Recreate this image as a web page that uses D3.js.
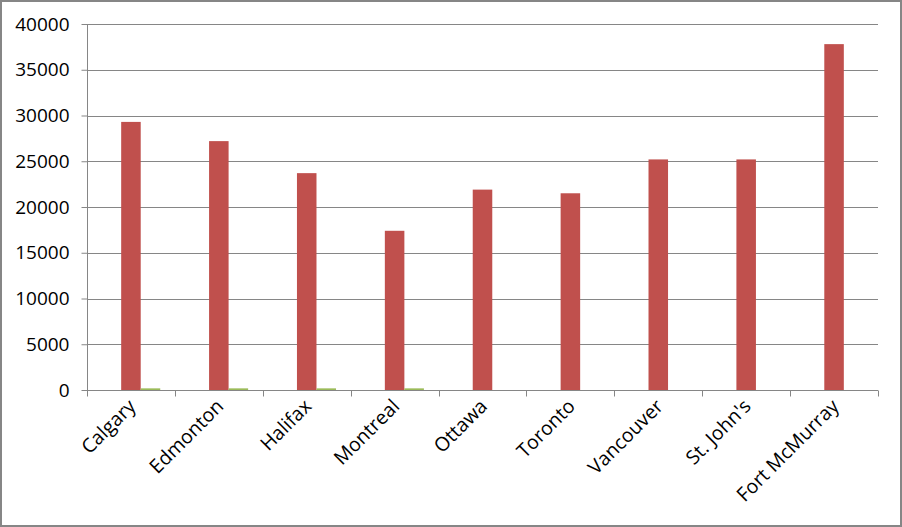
<!DOCTYPE html>
<html>
<head>
<meta charset="utf-8">
<script src="https://cdn.jsdelivr.net/npm/d3@7"></script>
<style>
  html, body { margin: 0; padding: 0; background: #fff; }
  svg { display: block; }
  text { font-family: "Open Sans", "Liberation Sans", sans-serif; fill: #000; }
</style>
</head>
<body>
<svg id="chart" width="902" height="527"></svg>
<script>
const categories = ["Calgary", "Edmonton", "Halifax", "Montreal", "Ottawa", "Toronto", "Vancouver", "St. John's", "Fort McMurray"];
const seriesNames = ["Series1", "Series2", "Series3"];
const series1 = [0, 0, 0, 0, 0, 0, 0, 0, 0];
const series2 = [29300, 27200, 23700, 17400, 21900, 21500, 25200, 25200, 37800];
const series3 = [180, 180, 180, 180, 0, 0, 0, 0, 0];
const yTicks = [0, 5000, 10000, 15000, 20000, 25000, 30000, 35000, 40000];
const colors = ["#4F81BD", "#C0504D", "#9BBB59"];

const svg = d3.select("#chart");
const W = 902, H = 527;
const m = { left: 87, right: 24, top: 24, bottom: 137 };
const x0 = d3.scaleBand().domain(categories).range([m.left, W - m.right]).paddingInner(0).paddingOuter(0);
const x1 = d3.scaleBand().domain(seriesNames).range([0, x0.bandwidth()]).paddingInner(0).paddingOuter(0.75);
const y = d3.scaleLinear().domain([0, 40000]).range([H - m.bottom, m.top]);

// border
svg.append("rect").attr("x", 1).attr("y", 1).attr("width", W - 2).attr("height", H - 2)
  .attr("fill", "#fff").attr("stroke", "#868686").attr("stroke-width", 2);

// gridlines
svg.append("g").selectAll("line").data(yTicks.filter(d => d > 0)).join("line")
  .attr("x1", m.left).attr("x2", W - m.right)
  .attr("y1", d => Math.round(y(d)) + 0.5).attr("y2", d => Math.round(y(d)) + 0.5)
  .attr("stroke", "#868686").attr("stroke-width", 1);

// bars
const data = categories.map((c, i) => ({ cat: c, vals: [series1[i], series2[i], series3[i]] }));
const g = svg.append("g");
data.forEach(d => {
  d.vals.forEach((v, j) => {
    if (v <= 0) return;
    g.append("rect")
      .attr("x", x0(d.cat) + x1(seriesNames[j]))
      .attr("width", x1.bandwidth())
      .attr("y", y(v))
      .attr("height", y(0) - y(v))
      .attr("fill", colors[j]);
  });
});

// y axis
const yAxis = d3.axisLeft(y).tickValues(yTicks).tickSize(6).tickPadding(12).tickFormat(d3.format("d"));
const ya = svg.append("g").attr("transform", `translate(${m.left + 0.5},0)`).call(yAxis);
ya.select(".domain").attr("stroke", "#868686").attr("d", `M0,${y(40000)}V${y(0)}`);
ya.selectAll(".tick line").attr("stroke", "#868686");
ya.selectAll(".tick text").style("font-size", "19px").attr("fill", "#000");

// x axis
const xa = svg.append("g").attr("transform", `translate(0,${Math.round(y(0)) + 0.5})`);
xa.append("line").attr("x1", m.left).attr("x2", W - m.right).attr("stroke", "#868686");
const bounds = categories.map(c => x0(c)).concat([x0(categories[categories.length - 1]) + x0.bandwidth()]);
xa.selectAll("line.tk").data(bounds).join("line").attr("class", "tk")
  .attr("x1", d => Math.round(d) + 0.5).attr("x2", d => Math.round(d) + 0.5)
  .attr("y1", 0).attr("y2", 6).attr("stroke", "#868686");
xa.selectAll("text").data(categories).join("text")
  .attr("text-anchor", "end")
  .attr("transform", d => `translate(${x0(d) + x0.bandwidth() / 2 + 6},${17}) rotate(-45)`)
  .style("font-size", "19.5px")
  .text(d => d);
</script>
</body>
</html>
